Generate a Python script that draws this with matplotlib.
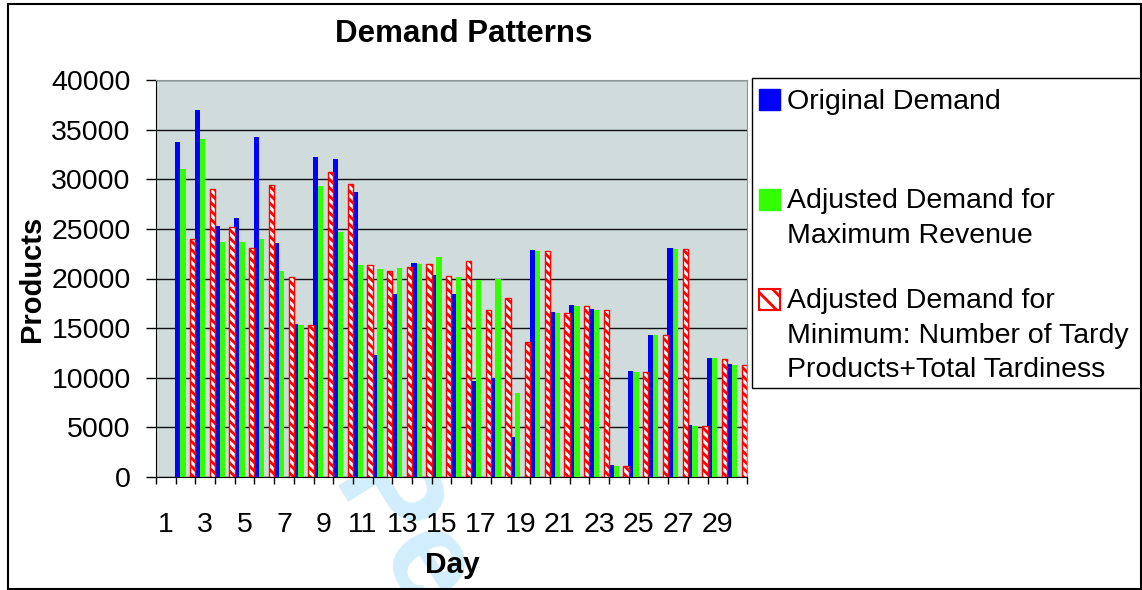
import matplotlib
matplotlib.use("Agg")
import matplotlib.pyplot as plt
from matplotlib.patches import Rectangle
import numpy as np

plt.rcParams['font.family'] = ['Liberation Sans', 'DejaVu Sans']
plt.rcParams['hatch.linewidth'] = 2.0

# ---- data ----
groups = list(range(1, 30))          # 29 bar groups as drawn
day_labels = [str(d) for d in range(1, 31)]
original = [33800, 37000, 25300, 26100, 34300, 23600, 15400, 32200, 32000, 28700,
            12300, 18400, 21600, 20400, 18400, 9700, 10000, 4000, 22900, 16600,
            17300, 16900, 1200, 10700, 14300, 23100, 5200, 12000, 11400]
max_revenue = [31000, 34100, 23700, 23700, 24000, 20800, 15300, 29300, 24700, 21400,
               21000, 21100, 21500, 22200, 20200, 19800, 19900, 8500, 22800, 16500,
               17200, 16800, 1100, 10600, 14300, 23000, 5100, 12000, 11300]
min_tardy = [24000, 29000, 25200, 23100, 29400, 20200, 15300, 30700, 29500, 21400,
             20800, 21200, 21500, 20300, 21800, 16800, 18000, 13600, 22800, 16500,
             17200, 16800, 1100, 10600, 14300, 23000, 5100, 11900, 11300]
yticks = list(range(0, 40001, 5000))

W, H = 1142, 590
fig = plt.figure(figsize=(W / 100, H / 100), dpi=100)

def fx(px):
    return px / W

def fy(py):
    return 1 - py / H

ax = fig.add_axes([fx(156), fy(477), fx(747) - fx(156), fy(80) - fy(477)])
ax.set_facecolor('#d0dbdb')

x = np.array(groups, dtype=float)
bw = 0.27
ax.bar(x - 0.04, original, width=bw, align='edge', color='#0000ff', zorder=3)
ax.bar(x + 0.23, max_revenue, width=bw, align='edge', color='#33ff00', zorder=3)
ax.bar(x + 0.73, min_tardy, width=bw, align='edge', facecolor='white',
       edgecolor='#ff0000', hatch='\\\\\\\\', linewidth=1.0, zorder=3)

ax.set_xlim(0, 30)
ax.set_ylim(0, 40000)
ax.set_yticks(yticks)
ax.set_yticklabels([str(v) for v in yticks], fontsize=20.5)
ax.tick_params(axis='y', length=7.2, width=1, pad=11, direction='out')
ax.yaxis.grid(True, color='#111111', linewidth=1.0, zorder=1)
ax.set_axisbelow(True)

ax.set_xticks(np.arange(0, 31))
ax.set_xticklabels([])
ax.tick_params(axis='x', which='major', length=5, width=1, direction='out')
ax.set_xticks(np.arange(0.5, 30, 2), minor=True)
ax.set_xticklabels(day_labels[::2], minor=True, fontsize=20.5)
ax.tick_params(axis='x', which='minor', length=0, pad=25)

for s in ['top', 'right']:
    ax.spines[s].set_color('#8a9898')
for s in ['left', 'bottom']:
    ax.spines[s].set_color('black')

fig.text(fx(464), fy(34), 'Demand Patterns', fontsize=22.5, fontweight='bold',
         ha='center', va='center')
fig.text(fx(32), fy(279), 'Products', fontsize=21, fontweight='bold',
         ha='center', va='center', rotation=90)
fig.text(fx(452), fy(573), 'Day', fontsize=21.5, fontweight='bold',
         ha='center', va='baseline')

# watermark fragment
fig.text(fx(400), fy(535), 'Pe', fontsize=95, color='#d2eefc', ha='center',
         va='center', rotation=-58, zorder=-5, fontweight='bold')

# legend (manual)
fig.patches.append(Rectangle((fx(752), fy(388)), fx(1141) - fx(752), fy(78) - fy(388),
                             transform=fig.transFigure, facecolor='white',
                             edgecolor='black', linewidth=1.0, zorder=1))
def swatch(py0, **kw):
    fig.patches.append(Rectangle((fx(759), fy(py0 + 21)), fx(780) - fx(759), fy(py0) - fy(py0 + 21),
                                 transform=fig.transFigure, zorder=2, **kw))
swatch(89, facecolor='#0000ff', edgecolor='#0000ff')
swatch(189, facecolor='#33ff00', edgecolor='#33ff00')
swatch(289, facecolor='white', edgecolor='#ff0000', hatch='\\\\', linewidth=1.5)

legend_lines = [
    (109, 'Original Demand'),
    (208, 'Adjusted Demand for'),
    (243, 'Maximum Revenue'),
    (308, 'Adjusted Demand for'),
    (343, 'Minimum: Number of Tardy'),
    (377, 'Products+Total Tardiness'),
]
for py, t in legend_lines:
    fig.text(fx(787), fy(py), t, fontsize=20.5, ha='left', va='baseline', zorder=3)

# outer frame
fig.patches.append(Rectangle((fx(8), fy(589)), fx(1141) - fx(8), fy(4) - fy(589),
                             transform=fig.transFigure, facecolor='none',
                             edgecolor='black', linewidth=1.5, zorder=4))

fig.savefig('out.png', dpi=100)
